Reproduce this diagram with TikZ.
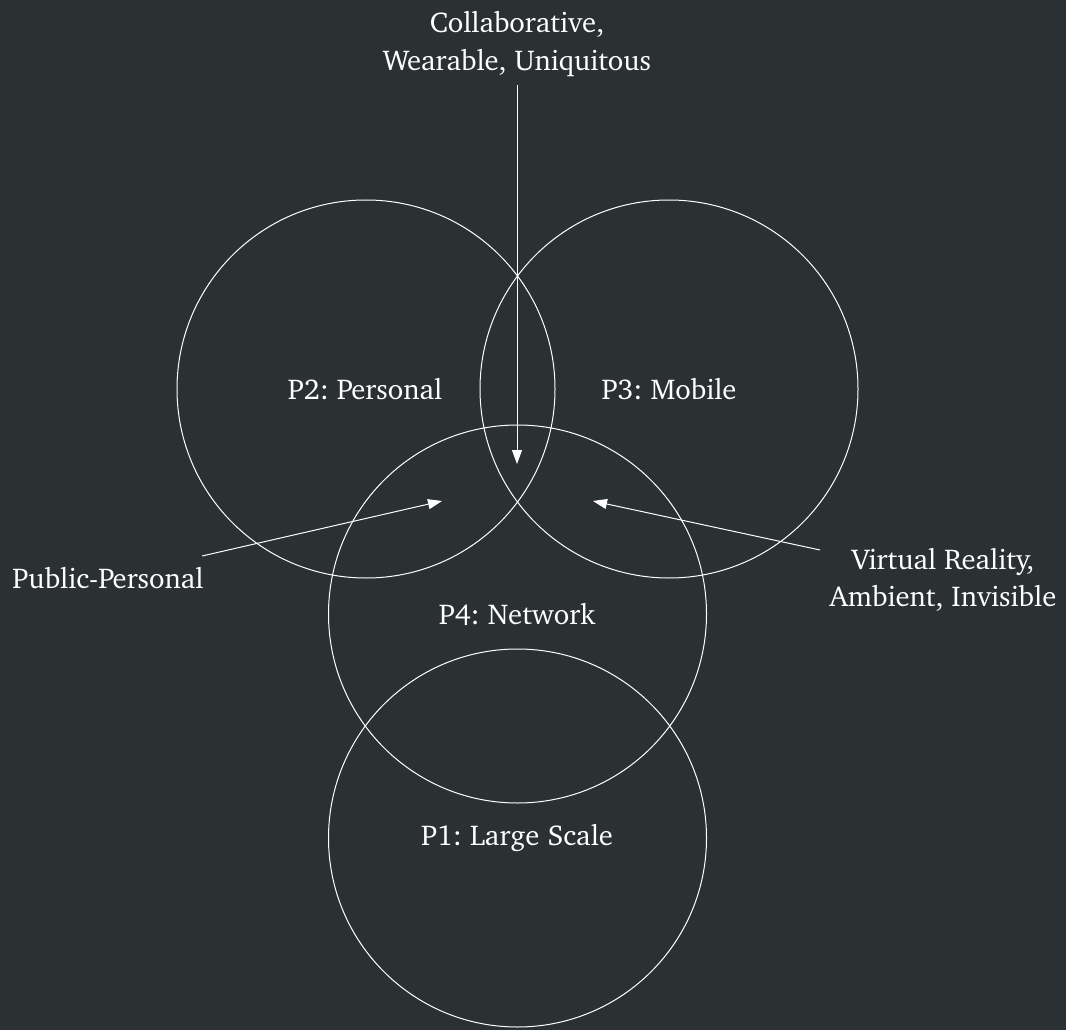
\documentclass[tikz,border=0pt]{standalone}
\usepackage[T1]{fontenc}
\usepackage{charter}
\usetikzlibrary{arrows.meta}
\definecolor{bg}{HTML}{2B3033}
\frenchspacing
\begin{document}
\begin{tikzpicture}[x=0.75pt,y=-0.75pt,
  ring/.style={draw=white,line width=0.75pt},
  lbl/.style={text=white,font=\fontsize{21.5}{28}\selectfont,inner sep=0pt,align=center},
  arr/.style={draw=white,line width=0.75pt,-{Triangle[length=10.5pt,width=7.5pt]}}]
\fill[bg] (0,0) rectangle (1066,1030);
\useasboundingbox (0,0) rectangle (1066,1030);
\draw[ring] (366,389) circle[radius=189];
\draw[ring] (669,389) circle[radius=189];
\draw[ring] (517.5,614) circle[radius=189];
\draw[ring] (517.5,838) circle[radius=189];
\node[lbl] (p2) at (365,389) {P2: Personal};
\node[lbl] (p3) at (669,389) {P3: Mobile};
\node[lbl] (p4) at (517,615) {P4: Network};
\node[lbl] (p1) at (517,838) {P1: Large Scale};
\node[lbl] (top) at (517,44) {Collaborative,\\Wearable, Uniquitous};
\node[lbl] (pp) at (108,578) {Public-Personal};
\node[lbl] (vr) at (943,580) {Virtual Reality,\\Ambient, Invisible};
\coordinate (ts) at (517,85);
\coordinate (te) at (517,464);
\coordinate (ls) at (202,556);
\coordinate (le) at (442,501);
\coordinate (rs) at (820,550);
\coordinate (re) at (593,501);
\draw[arr] (ts) -- (te);
\draw[arr] (ls) -- (le);
\draw[arr] (rs) -- (re);
\end{tikzpicture}
\end{document}
